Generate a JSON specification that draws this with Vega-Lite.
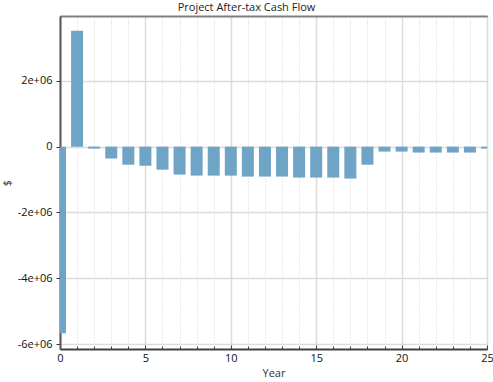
{
  "$schema": "https://vega.github.io/schema/vega-lite/v6.json",
  "width": 427,
  "height": 333,
  "autosize": "none",
  "padding": {"left": 60, "top": 16, "right": 6, "bottom": 33},
  "background": "white",
  "title": {"text": "Project After-tax Cash Flow", "font": "Open Sans", "fontSize": 11, "fontWeight": "normal", "color": "#222", "anchor": "middle", "dx": -27, "offset": 3},
  "config": {"view": {"stroke": "black", "strokeWidth": 1}},
  "data": {"values": [
    {"Year": 0, "CashFlow": -5670000},
    {"Year": 1, "CashFlow": 3520000},
    {"Year": 2, "CashFlow": -60000},
    {"Year": 3, "CashFlow": -360000},
    {"Year": 4, "CashFlow": -550000},
    {"Year": 5, "CashFlow": -580000},
    {"Year": 6, "CashFlow": -700000},
    {"Year": 7, "CashFlow": -850000},
    {"Year": 8, "CashFlow": -880000},
    {"Year": 9, "CashFlow": -880000},
    {"Year": 10, "CashFlow": -880000},
    {"Year": 11, "CashFlow": -910000},
    {"Year": 12, "CashFlow": -910000},
    {"Year": 13, "CashFlow": -910000},
    {"Year": 14, "CashFlow": -940000},
    {"Year": 15, "CashFlow": -940000},
    {"Year": 16, "CashFlow": -940000},
    {"Year": 17, "CashFlow": -970000},
    {"Year": 18, "CashFlow": -550000},
    {"Year": 19, "CashFlow": -150000},
    {"Year": 20, "CashFlow": -150000},
    {"Year": 21, "CashFlow": -180000},
    {"Year": 22, "CashFlow": -180000},
    {"Year": 23, "CashFlow": -180000},
    {"Year": 24, "CashFlow": -180000},
    {"Year": 25, "CashFlow": -60000}
  ]},
  "layer": [
    {
      "mark": {"type": "bar", "width": 12, "color": "#6fa4c6", "clip": true, "orient": "vertical"},
      "encoding": {
        "x": {"field": "Year", "type": "quantitative",
          "scale": {"domain": [0, 25], "nice": false, "zero": false, "padding": 0},
          "axis": {
            "title": "Year", "titleFont": "Open Sans", "titleFontSize": 11, "titleFontWeight": "normal", "titleColor": "#333", "titlePadding": 4,
            "values": [0,1,2,3,4,5,6,7,8,9,10,11,12,13,14,15,16,17,18,19,20,21,22,23,24,25],
            "labelExpr": "datum.value % 5 == 0 ? datum.value + '' : ''",
            "labelFont": "Open Sans", "labelFontSize": 11, "labelColor": "#111", "labelPadding": 7,
            "labelFlush": false,
            "domainColor": "#404040", "domainWidth": 2,
            "tickColor": "#404040",
            "tickSize": {"condition": {"test": "datum.value % 5 == 0", "value": -4}, "value": -3},
            "tickWidth": 1,
            "grid": true,
            "gridColor": {"condition": {"test": "datum.value % 5 == 0", "value": "#dcdcdc"}, "value": "#d4d4d4"},
            "gridDash": {"condition": {"test": "datum.value % 5 == 0", "value": []}, "value": [1, 2]},
            "gridWidth": {"condition": {"test": "datum.value % 5 == 0", "value": 1.5}, "value": 1}
          }
        },
        "y": {"field": "CashFlow", "type": "quantitative",
          "scale": {"domain": [-6150000, 3970000], "nice": false},
          "axis": {
            "title": "$", "titleFont": "Open Sans", "titleFontSize": 11, "titleFontWeight": "normal", "titleColor": "#333", "titlePadding": 5,
            "values": [-6000000,-5000000,-4000000,-3000000,-2000000,-1000000,0,1000000,2000000,3000000],
            "labelExpr": "datum.value == 0 ? '0' : (datum.value % 2000000 == 0 ? (datum.value / 1000000) + 'e+06' : '')",
            "labelFont": "Open Sans", "labelFontSize": 11, "labelColor": "#111", "labelPadding": 4,
            "labelFlush": false,
            "domainColor": "#555555", "domainWidth": 2,
            "tickColor": "#333",
            "tickSize": {"condition": {"test": "datum.value % 2000000 == 0", "value": 4}, "value": 0},
            "grid": true,
            "gridColor": {"condition": {"test": "datum.value % 2000000 == 0", "value": "#dcdcdc"}, "value": "#d4d4d4"},
            "gridDash": {"condition": {"test": "datum.value % 2000000 == 0", "value": []}, "value": [1, 2]},
            "gridWidth": {"condition": {"test": "datum.value % 2000000 == 0", "value": 1.5}, "value": 1}
          }
        }
      }
    },
    {
      "mark": {"type": "bar", "width": 12, "opacity": 0, "clip": true, "orient": "vertical"},
      "encoding": {
        "x": {"field": "Year", "type": "quantitative",
          "scale": {"domain": [0, 25], "nice": false, "zero": false, "padding": 0},
          "axis": {"orient": "top", "title": null, "labels": false, "ticks": false, "grid": false, "domainColor": "#808080", "domainWidth": 2}
        },
        "y": {"field": "CashFlow", "type": "quantitative"}
      }
    }
  ],
  "resolve": {"axis": {"x": "independent"}}
}
